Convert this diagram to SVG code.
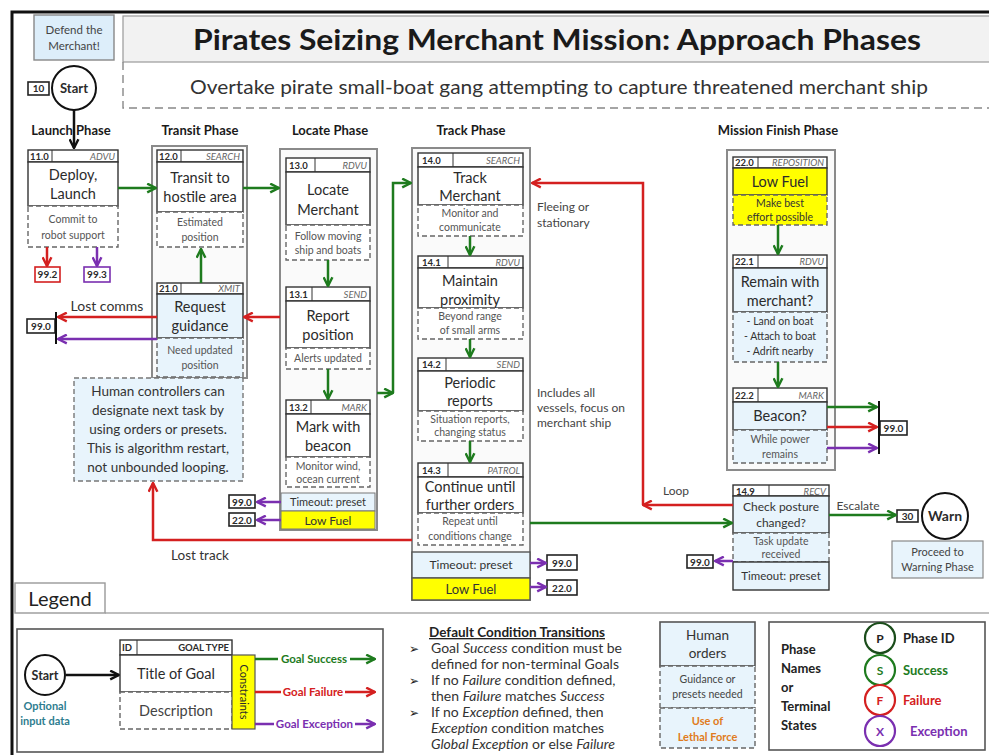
<svg xmlns="http://www.w3.org/2000/svg" width="989" height="755" viewBox="0 0 989 755">
<style>
svg{fill:#2b2b2b}
text{font-family:Lato,"Open Sans","Liberation Sans",sans-serif}
.ph{font-size:13px;font-weight:bold;text-anchor:middle;fill:#1a1a1a}
.hdr{fill:#fff;stroke:#333;stroke-width:1.4}
.ttl{fill:#fff;stroke:#333;stroke-width:1.4}
.ttlb{fill:#e8f4fc;stroke:#333;stroke-width:1.4}
.ttly{fill:#ffff00;stroke:#333;stroke-width:1.4}
.dsc{fill:#fff;stroke:#666;stroke-width:1.4;stroke-dasharray:5,3}
.dscb{fill:#e8f4fc;stroke:#666;stroke-width:1.4;stroke-dasharray:5,3}
.dscy{fill:#ffff00;stroke:#666;stroke-width:1.4;stroke-dasharray:5,3}
.cont{fill:#fafafa;stroke:#8a8a8a;stroke-width:2}
.id{font-size:9.5px;font-weight:bold}
.ty{font-size:9.5px;font-style:italic;fill:#666;text-anchor:end}
.t{font-size:14.5px;text-anchor:middle}
.d{font-size:10.5px;text-anchor:middle;fill:#555}
.lbl{font-size:12px;fill:#444}
.tbox{fill:#fff;stroke:#222;stroke-width:1.6}
.tid{font-size:10px;font-weight:bold;text-anchor:middle}
.g{stroke:#1e7b1e;stroke-width:2.5;fill:none}
.r{stroke:#d42020;stroke-width:2.5;fill:none}
.p{stroke:#7a2fb0;stroke-width:2.5;fill:none}
.k{stroke:#111;stroke-width:2.5;fill:none}
</style>
<defs>
<marker id="ag" viewBox="0 0 10 10" refX="9" refY="5" markerWidth="11" markerHeight="11" orient="auto" markerUnits="userSpaceOnUse"><path d="M1,1 L9,5 L1,9" fill="none" stroke="#1e7b1e" stroke-width="2.2"/></marker>
<marker id="ar" viewBox="0 0 10 10" refX="9" refY="5" markerWidth="11" markerHeight="11" orient="auto" markerUnits="userSpaceOnUse"><path d="M1,1 L9,5 L1,9" fill="none" stroke="#d42020" stroke-width="2.2"/></marker>
<marker id="ap" viewBox="0 0 10 10" refX="9" refY="5" markerWidth="11" markerHeight="11" orient="auto" markerUnits="userSpaceOnUse"><path d="M1,1 L9,5 L1,9" fill="none" stroke="#7a2fb0" stroke-width="2.2"/></marker>
<marker id="ak" viewBox="0 0 10 10" refX="9" refY="5" markerWidth="11" markerHeight="11" orient="auto" markerUnits="userSpaceOnUse"><path d="M1,1 L9,5 L1,9" fill="none" stroke="#111" stroke-width="2.2"/></marker>
</defs>
<rect width="989" height="755" fill="#fff"/>
<!-- frame -->
<path d="M12,755 V12 H989" fill="none" stroke="#111" stroke-width="3"/>

<!-- header -->
<g id="title">
<rect x="123" y="16" width="870" height="46" fill="#f2f2f2" stroke="#999" stroke-width="1.2"/>
<text x="557" y="50" font-size="29" font-weight="bold" text-anchor="middle" fill="#1a1a1a" textLength="728" lengthAdjust="spacingAndGlyphs">Pirates Seizing Merchant Mission: Approach Phases</text>
<path d="M123,62 V108 H989" fill="none" stroke="#888" stroke-width="1.4" stroke-dasharray="8,5"/>
<text x="559" y="94" font-size="20" text-anchor="middle" fill="#333" textLength="738" lengthAdjust="spacingAndGlyphs">Overtake pirate small-boat gang attempting to capture threatened merchant ship</text>
</g>
<g id="defend">
<rect x="34" y="15" width="80" height="45" fill="#ddeefa" stroke="#888" stroke-width="1.4"/>
<text x="74" y="34" font-size="11.5" text-anchor="middle" fill="#444">Defend the</text>
<text x="74" y="50" font-size="11.5" text-anchor="middle" fill="#444">Merchant!</text>
</g>
<g id="start">
<circle cx="74" cy="88" r="22" fill="#fff" stroke="#111" stroke-width="2"/>
<text x="74" y="93" font-size="13" font-weight="bold" text-anchor="middle">Start</text>
<rect x="28" y="82" width="21" height="13" class="tbox"/>
<text x="38.5" y="92" class="tid">10</text>
</g>

<!-- phase labels -->
<g id="phases">
<text x="71" y="135" class="ph">Launch Phase</text>
<text x="200" y="135" class="ph">Transit Phase</text>
<text x="330" y="135" class="ph">Locate Phase</text>
<text x="471" y="135" class="ph">Track Phase</text>
<text x="778" y="135" class="ph">Mission Finish Phase</text>
</g>

<!-- containers -->
<g id="containers">
<rect x="152" y="146" width="95" height="232" class="cont"/>
<rect x="280" y="149" width="97" height="381" class="cont"/>
<rect x="412" y="148" width="118" height="452" class="cont"/>
<rect x="727" y="150" width="108" height="320" class="cont"/>
</g>

<!-- Node 11.0 -->
<g id="n11">
<rect x="28" y="150" width="90" height="12" class="hdr"/><line x1="52" y1="150" x2="52" y2="162" stroke="#333"/>
<text x="30" y="159.5" class="id">11.0</text><text x="115" y="159.5" class="ty">ADVU</text>
<rect x="28" y="162" width="90" height="44" class="ttl"/>
<text x="73" y="180" class="t">Deploy,</text><text x="73" y="199" class="t">Launch</text>
<rect x="28" y="206" width="90" height="41" class="dsc"/>
<text x="73" y="223" class="d">Commit to</text><text x="73" y="239" class="d">robot support</text>
</g>
<g id="t992"><rect x="35" y="267" width="25" height="15" fill="#fff" stroke="#d42020" stroke-width="1.6"/><text x="47.5" y="278" class="tid">99.2</text></g>
<g id="t993"><rect x="84" y="267" width="26" height="15" fill="#fff" stroke="#7a2fb0" stroke-width="1.6"/><text x="97" y="278" class="tid">99.3</text></g>

<!-- Node 12.0 -->
<g id="n12">
<rect x="157" y="150" width="86" height="12" class="hdr"/><line x1="181" y1="150" x2="181" y2="162" stroke="#333"/>
<text x="159" y="159.5" class="id">12.0</text><text x="240" y="159.5" class="ty">SEARCH</text>
<rect x="157" y="162" width="86" height="50" class="ttl"/>
<text x="200" y="183" class="t">Transit to</text><text x="200" y="202" class="t">hostile area</text>
<rect x="157" y="212" width="86" height="35" class="dsc"/>
<text x="200" y="226" class="d">Estimated</text><text x="200" y="241" class="d">position</text>
</g>
<!-- Node 21.0 -->
<g id="n21">
<rect x="157" y="283" width="86" height="11" class="hdr"/><line x1="181" y1="283" x2="181" y2="294" stroke="#333"/>
<text x="159" y="292" class="id">21.0</text><text x="240" y="292" class="ty">XMIT</text>
<rect x="157" y="294" width="86" height="44" class="ttlb"/>
<text x="200" y="312" class="t">Request</text><text x="200" y="331" class="t">guidance</text>
<rect x="157" y="338" width="86" height="39" class="dscb"/>
<text x="200" y="354" class="d" font-size="10">Need updated</text><text x="200" y="369" class="d" font-size="10">position</text>
</g>
<g id="human">
<rect x="74" y="378" width="169" height="103" fill="#e8f4fc" stroke="#777" stroke-width="1.4" stroke-dasharray="5,3"/>
<text x="158" y="396" font-size="13.5" text-anchor="middle" fill="#333">Human controllers can</text>
<text x="158" y="415" font-size="13.5" text-anchor="middle" fill="#333">designate next task by</text>
<text x="158" y="434" font-size="13.5" text-anchor="middle" fill="#333">using orders or presets.</text>
<text x="158" y="453" font-size="13.5" text-anchor="middle" fill="#333">This is algorithm restart,</text>
<text x="158" y="472" font-size="13.5" text-anchor="middle" fill="#333">not unbounded looping.</text>
</g>
<g id="t990a"><rect x="27" y="319" width="28" height="14" class="tbox"/><text x="41" y="330" class="tid">99.0</text></g>

<!-- Node 13.0 -->
<g id="n13">
<rect x="286" y="158" width="84" height="14" class="hdr"/><line x1="315" y1="158" x2="315" y2="172" stroke="#333"/>
<text x="289" y="168.5" class="id">13.0</text><text x="367" y="168.5" class="ty">RDVU</text>
<rect x="286" y="172" width="84" height="53" class="ttl"/>
<text x="328" y="195" class="t">Locate</text><text x="328" y="215" class="t">Merchant</text>
<rect x="286" y="225" width="84" height="35" class="dsc"/>
<text x="328" y="240" class="d">Follow moving</text><text x="328" y="254" class="d">ship and boats</text>
</g>
<g id="n131">
<rect x="286" y="287" width="84" height="14" class="hdr"/><line x1="312" y1="287" x2="312" y2="301" stroke="#333"/>
<text x="289" y="297.5" class="id">13.1</text><text x="367" y="297.5" class="ty">SEND</text>
<rect x="286" y="301" width="84" height="47" class="ttl"/>
<text x="328" y="321" class="t">Report</text><text x="328" y="340" class="t">position</text>
<rect x="286" y="348" width="84" height="21" class="dsc"/>
<text x="328" y="362" class="d">Alerts updated</text>
</g>
<g id="n132">
<rect x="286" y="400" width="84" height="14" class="hdr"/><line x1="311" y1="400" x2="311" y2="414" stroke="#333"/>
<text x="289" y="410.5" class="id">13.2</text><text x="367" y="410.5" class="ty">MARK</text>
<rect x="286" y="414" width="84" height="43" class="ttl"/>
<text x="328" y="432" class="t">Mark with</text><text x="328" y="451" class="t">beacon</text>
<rect x="286" y="457" width="84" height="30" class="dsc"/>
<text x="328" y="470" class="d">Monitor wind,</text><text x="328" y="483" class="d">ocean current</text>
</g>
<g id="locTimeout">
<rect x="281" y="493" width="94" height="18" fill="#e8f4fc" stroke="#777" stroke-width="1"/>
<text x="328" y="506" font-size="11" text-anchor="middle" fill="#333">Timeout: preset</text>
<rect x="281" y="511" width="94" height="18" fill="#ffff00" stroke="#777" stroke-width="1"/>
<text x="328" y="524.5" font-size="12" text-anchor="middle" fill="#333">Low Fuel</text>
</g>
<g id="t990b"><rect x="229" y="495" width="26" height="13" class="tbox"/><text x="242" y="505.5" class="tid">99.0</text></g>
<g id="t220a"><rect x="229" y="513" width="26" height="13" class="tbox"/><text x="242" y="523.5" class="tid">22.0</text></g>

<!-- Track nodes -->
<g id="n140">
<rect x="418" y="153" width="105" height="14" class="hdr"/><line x1="453" y1="153" x2="453" y2="167" stroke="#333"/>
<text x="422" y="163.5" class="id">14.0</text><text x="520" y="163.5" class="ty">SEARCH</text>
<rect x="418" y="167" width="105" height="38" class="ttl"/>
<text x="470" y="183" class="t">Track</text><text x="470" y="201" class="t">Merchant</text>
<rect x="418" y="205" width="105" height="31" class="dsc"/>
<text x="470" y="217" class="d" font-size="10">Monitor and</text><text x="470" y="231" class="d" font-size="10">communicate</text>
</g>
<g id="n141">
<rect x="418" y="256" width="105" height="12" class="hdr"/><line x1="448" y1="256" x2="448" y2="268" stroke="#333"/>
<text x="422" y="265.5" class="id">14.1</text><text x="520" y="265.5" class="ty">RDVU</text>
<rect x="418" y="268" width="105" height="40" class="ttl"/>
<text x="470" y="286" class="t">Maintain</text><text x="470" y="305" class="t">proximity</text>
<rect x="418" y="308" width="105" height="31" class="dsc"/>
<text x="470" y="320" class="d" font-size="10">Beyond range</text><text x="470" y="334" class="d" font-size="10">of small arms</text>
</g>
<g id="n142">
<rect x="418" y="358" width="105" height="13" class="hdr"/><line x1="446" y1="358" x2="446" y2="371" stroke="#333"/>
<text x="422" y="368" class="id">14.2</text><text x="520" y="368" class="ty">SEND</text>
<rect x="418" y="371" width="105" height="40" class="ttl"/>
<text x="470" y="388" class="t">Periodic</text><text x="470" y="406" class="t">reports</text>
<rect x="418" y="411" width="105" height="30" class="dsc"/>
<text x="470" y="423" class="d" font-size="10">Situation reports,</text><text x="470" y="436" class="d" font-size="10">changing status</text>
</g>
<g id="n143">
<rect x="418" y="463" width="105" height="14" class="hdr"/><line x1="448" y1="463" x2="448" y2="477" stroke="#333"/>
<text x="422" y="473.5" class="id">14.3</text><text x="520" y="473.5" class="ty">PATROL</text>
<rect x="418" y="477" width="105" height="36" class="ttl"/>
<text x="470" y="492" class="t">Continue until</text><text x="470" y="510" class="t">further orders</text>
<rect x="418" y="513" width="105" height="32" class="dsc"/>
<text x="470" y="525" class="d" font-size="10">Repeat until</text><text x="470" y="540" class="d" font-size="10">conditions change</text>
</g>
<g id="trkTimeout">
<rect x="412" y="552" width="118" height="26" fill="#e8f4fc" stroke="#555" stroke-width="1.4"/>
<text x="471" y="569" font-size="12" text-anchor="middle" fill="#333">Timeout: preset</text>
<rect x="412" y="578" width="118" height="22" fill="#ffff00" stroke="#555" stroke-width="1.4"/>
<text x="471" y="594" font-size="13" text-anchor="middle" fill="#333">Low Fuel</text>
</g>
<g id="t990c"><rect x="547" y="555" width="30" height="15" class="tbox"/><text x="562" y="566.5" class="tid">99.0</text></g>
<g id="t220b"><rect x="547" y="580" width="30" height="15" class="tbox"/><text x="562" y="591.5" class="tid">22.0</text></g>
<g id="notes">
<text x="537" y="211" class="lbl" font-size="11.5">Fleeing or</text>
<text x="537" y="227" class="lbl" font-size="11.5">stationary</text>
<text x="537" y="397" class="lbl" font-size="11.5">Includes all</text>
<text x="537" y="412" class="lbl" font-size="11.5">vessels, focus on</text>
<text x="537" y="427" class="lbl" font-size="11.5">merchant ship</text>
</g>

<!-- 14.9 -->
<g id="n149">
<rect x="733" y="485" width="96" height="11" class="hdr"/><line x1="769" y1="485" x2="769" y2="496" stroke="#333"/>
<text x="736" y="494.5" class="id">14.9</text><text x="826" y="494.5" class="ty">RECV</text>
<rect x="733" y="496" width="96" height="37" class="ttlb"/>
<text x="781" y="511" font-size="12" text-anchor="middle" fill="#333">Check posture</text><text x="781" y="527" font-size="12" text-anchor="middle" fill="#333">changed?</text>
<rect x="733" y="533" width="96" height="29" class="dscb"/>
<text x="781" y="545" class="d">Task update</text><text x="781" y="558" class="d">received</text>
<rect x="733" y="562" width="96" height="28" fill="#e8f4fc" stroke="#333" stroke-width="1.4"/>
<text x="781" y="580" font-size="11.5" text-anchor="middle" fill="#333">Timeout: preset</text>
</g>
<g id="t990d"><rect x="687" y="555" width="26" height="13" class="tbox"/><text x="700" y="565.5" class="tid">99.0</text></g>
<g id="warn">
<rect x="897" y="510" width="21" height="12" class="tbox"/><text x="907.5" y="520" class="tid">30</text>
<circle cx="945" cy="516" r="23" fill="#fff" stroke="#111" stroke-width="2"/>
<text x="945" y="521" font-size="14" font-weight="bold" text-anchor="middle">Warn</text>
</g>
<g id="proceed">
<rect x="892" y="541" width="91" height="37" fill="#e8f4fc" stroke="#888" stroke-width="1.2"/>
<text x="937.5" y="556" font-size="11" text-anchor="middle" fill="#444">Proceed to</text>
<text x="937.5" y="571" font-size="11" text-anchor="middle" fill="#444">Warning Phase</text>
</g>

<!-- Mission finish nodes -->
<g id="n220">
<rect x="733" y="157" width="94" height="11" class="hdr"/><line x1="758" y1="157" x2="758" y2="168" stroke="#333"/>
<text x="735" y="166" class="id">22.0</text><text x="824" y="166" class="ty">REPOSITION</text>
<rect x="733" y="168" width="94" height="27" class="ttly"/>
<text x="780" y="187" class="t">Low Fuel</text>
<rect x="733" y="195" width="94" height="30" class="dscy"/>
<text x="780" y="207" class="d" style="fill:#333">Make best</text><text x="780" y="221" class="d" style="fill:#333">effort possible</text>
</g>
<g id="n221">
<rect x="733" y="255" width="94" height="13" class="hdr"/><line x1="758" y1="255" x2="758" y2="268" stroke="#333"/>
<text x="735" y="265" class="id">22.1</text><text x="824" y="265" class="ty">RDVU</text>
<rect x="733" y="268" width="94" height="44" class="ttlb"/>
<text x="780" y="287" class="t">Remain with</text><text x="780" y="306" class="t">merchant?</text>
<rect x="733" y="312" width="94" height="50" class="dscb"/>
<text x="780" y="325" class="d" style="fill:#333">- Land on boat</text><text x="780" y="340" class="d" style="fill:#333">- Attach to boat</text><text x="780" y="355" class="d" style="fill:#333">- Adrift nearby</text>
</g>
<g id="n222">
<rect x="733" y="388" width="94" height="14" class="hdr"/><line x1="758" y1="388" x2="758" y2="402" stroke="#333"/>
<text x="735" y="398.5" class="id">22.2</text><text x="824" y="398.5" class="ty">MARK</text>
<rect x="733" y="402" width="94" height="28" class="ttlb"/>
<text x="780" y="421" class="t">Beacon?</text>
<rect x="733" y="430" width="94" height="33" class="dscb"/>
<text x="780" y="443" class="d">While power</text><text x="780" y="458" class="d">remains</text>
</g>
<g id="t990e"><rect x="880" y="421" width="27" height="14" class="tbox"/><text x="893.5" y="432" class="tid">99.0</text></g>

<!-- connectors -->
<g id="connectors">
<line x1="74" y1="110" x2="74" y2="148" class="k" marker-end="url(#ak)"/>
<line x1="118" y1="188" x2="156" y2="188" class="g" marker-end="url(#ag)"/>
<line x1="243" y1="188" x2="279" y2="188" class="g" marker-end="url(#ag)"/>
<line x1="47" y1="247" x2="47" y2="266" class="r" marker-end="url(#ar)"/>
<line x1="97" y1="247" x2="97" y2="266" class="p" marker-end="url(#ap)"/>
<line x1="201" y1="283" x2="201" y2="249" class="g" marker-end="url(#ag)"/>
<line x1="280" y1="317" x2="244" y2="317" class="r" marker-end="url(#ar)"/>
<line x1="157" y1="317" x2="58" y2="317" class="r" marker-end="url(#ar)"/>
<line x1="157" y1="339" x2="58" y2="339" class="p" marker-end="url(#ap)"/>
<line x1="56" y1="312" x2="56" y2="344" stroke="#111" stroke-width="2"/>
<line x1="328" y1="260" x2="328" y2="286" class="g" marker-end="url(#ag)"/>
<line x1="328" y1="369" x2="328" y2="399" class="g" marker-end="url(#ag)"/>
<line x1="377" y1="393" x2="393" y2="393" class="g" marker-end="url(#ag)"/>
<path d="M393,393 V183 H411" class="g" marker-end="url(#ag)"/>
<line x1="281" y1="502" x2="257" y2="502" class="p" marker-end="url(#ap)"/>
<line x1="281" y1="520" x2="257" y2="520" class="p" marker-end="url(#ap)"/>
<path d="M412,540 H153 V483" class="r" marker-end="url(#ar)"/>
<line x1="470" y1="236" x2="470" y2="255" class="g" marker-end="url(#ag)"/>
<line x1="470" y1="339" x2="470" y2="357" class="g" marker-end="url(#ag)"/>
<line x1="470" y1="441" x2="470" y2="462" class="g" marker-end="url(#ag)"/>
<line x1="530" y1="563" x2="546" y2="563" class="p" marker-end="url(#ap)"/>
<line x1="530" y1="587" x2="546" y2="587" class="p" marker-end="url(#ap)"/>
<line x1="530" y1="523" x2="732" y2="523" class="g" marker-end="url(#ag)"/>
<line x1="733" y1="505" x2="643" y2="505" class="r" marker-end="url(#ar)"/>
<path d="M643,505 V183 H532" class="r" marker-end="url(#ar)"/>
<line x1="733" y1="561" x2="715" y2="561" class="p" marker-end="url(#ap)"/>
<line x1="829" y1="515" x2="896" y2="515" class="g" marker-end="url(#ag)"/>
<line x1="778" y1="225" x2="778" y2="254" class="g" marker-end="url(#ag)"/>
<line x1="778" y1="362" x2="778" y2="387" class="g" marker-end="url(#ag)"/>
<line x1="827" y1="407" x2="877" y2="407" class="g" marker-end="url(#ag)"/>
<line x1="827" y1="427" x2="877" y2="427" class="r" marker-end="url(#ar)"/>
<line x1="827" y1="448" x2="877" y2="448" class="p" marker-end="url(#ap)"/>
<line x1="879" y1="401" x2="879" y2="454" stroke="#111" stroke-width="2"/>
<text x="107" y="311" font-size="14" text-anchor="middle" fill="#333">Lost comms</text>
<text x="200" y="560" font-size="13.5" text-anchor="middle" fill="#333">Lost track</text>
<text x="676" y="495" class="lbl" text-anchor="middle">Loop</text>
<text x="858" y="510" class="lbl" text-anchor="middle">Escalate</text>
</g>

<!-- Legend -->
<g id="legendTab">
<line x1="105" y1="613" x2="989" y2="613" stroke="#aaa" stroke-width="1.6"/>
<rect x="15" y="583" width="90" height="30" fill="#fff" stroke="#999" stroke-width="1.4"/>
<text x="60" y="606" font-size="20" text-anchor="middle" fill="#222">Legend</text>
</g>
<g id="legend1">
<rect x="17" y="629" width="366" height="123" fill="#fff" stroke="#555" stroke-width="1.6"/>
<circle cx="45" cy="675" r="20" fill="#fff" stroke="#111" stroke-width="2"/>
<text x="45" y="680" font-size="12.5" font-weight="bold" text-anchor="middle">Start</text>
<text x="45" y="710" font-size="11" font-weight="bold" text-anchor="middle" fill="#2e7d8f">Optional</text>
<text x="45" y="725" font-size="11" font-weight="bold" text-anchor="middle" fill="#2e7d8f">input data</text>
<line x1="66" y1="675" x2="119" y2="675" class="k" marker-end="url(#ak)"/>
<rect x="120" y="640" width="112" height="15" class="hdr"/><line x1="137" y1="640" x2="137" y2="655" stroke="#333"/>
<text x="122" y="651" class="id">ID</text><text x="229" y="651" font-size="9.5" font-weight="bold" text-anchor="end">GOAL TYPE</text>
<rect x="120" y="655" width="112" height="37" class="ttl"/>
<text x="176" y="679" class="t">Title of Goal</text>
<rect x="120" y="692" width="112" height="37" class="dsc"/>
<text x="176" y="716" class="t" fill="#444">Description</text>
<rect x="232" y="655" width="23" height="74" fill="#ffff00" stroke="#555" stroke-width="1.2"/>
<text x="243.5" y="692" font-size="11" text-anchor="middle" transform="rotate(90 243.5 692)" dy="4">Constraints</text>
<line x1="255" y1="659" x2="375" y2="659" class="g" stroke-width="2" marker-end="url(#ag)"/>
<rect x="278" y="651" width="72" height="15" fill="#fff"/>
<text x="314" y="663" font-size="11.5" font-weight="bold" text-anchor="middle" fill="#1e7b1e">Goal Success</text>
<line x1="255" y1="692" x2="375" y2="692" class="r" stroke-width="2" marker-end="url(#ar)"/>
<rect x="281" y="684" width="64" height="15" fill="#fff"/>
<text x="313" y="696" font-size="11.5" font-weight="bold" text-anchor="middle" fill="#d42020">Goal Failure</text>
<line x1="255" y1="724" x2="375" y2="724" class="p" stroke-width="2" marker-end="url(#ap)"/>
<rect x="274" y="716" width="81" height="15" fill="#fff"/>
<text x="314.5" y="728" font-size="11.5" font-weight="bold" text-anchor="middle" fill="#7a2fb0">Goal Exception</text>
</g>
<g id="legend2">
<text x="517" y="637" font-size="13.5" font-weight="bold" text-anchor="middle" text-decoration="underline" fill="#222">Default Condition Transitions</text>
<text x="409" y="653" font-size="12" fill="#222">➢</text>
<text x="431" y="653" font-size="14" fill="#333">Goal <tspan font-style="italic">Success</tspan> condition must be</text>
<text x="431" y="669" font-size="14" fill="#333">defined for non-terminal Goals</text>
<text x="409" y="685" font-size="12" fill="#222">➢</text>
<text x="431" y="685" font-size="14" fill="#333">If no <tspan font-style="italic">Failure</tspan> condition defined,</text>
<text x="431" y="701" font-size="14" fill="#333">then <tspan font-style="italic">Failure</tspan> matches <tspan font-style="italic">Success</tspan></text>
<text x="409" y="717" font-size="12" fill="#222">➢</text>
<text x="431" y="717" font-size="14" fill="#333">If no <tspan font-style="italic">Exception</tspan> defined, then</text>
<text x="431" y="733" font-size="14" fill="#333"><tspan font-style="italic">Exception</tspan> condition matches</text>
<text x="431" y="749" font-size="14" fill="#333"><tspan font-style="italic">Global Exception</tspan> or else <tspan font-style="italic">Failure</tspan></text>
</g>
<g id="legend3">
<rect x="660" y="622" width="95" height="44" fill="#e8f4fc" stroke="#555" stroke-width="1.6"/>
<text x="707.5" y="640" font-size="13.5" text-anchor="middle" fill="#333">Human</text>
<text x="707.5" y="658" font-size="13.5" text-anchor="middle" fill="#333">orders</text>
<rect x="660" y="666" width="95" height="42" class="dscb"/>
<text x="707.5" y="683" font-size="10.5" text-anchor="middle" fill="#444">Guidance or</text>
<text x="707.5" y="698" font-size="10.5" text-anchor="middle" fill="#444">presets needed</text>
<rect x="660" y="708" width="95" height="40" class="dscb"/>
<text x="707.5" y="725" font-size="11" font-weight="bold" text-anchor="middle" fill="#e07b20">Use of</text>
<text x="707.5" y="741" font-size="11" font-weight="bold" text-anchor="middle" fill="#e07b20">Lethal Force</text>
</g>
<g id="legend4">
<rect x="769" y="622" width="216" height="128" fill="#fff" stroke="#555" stroke-width="1.6"/>
<text x="781" y="654" font-size="13" font-weight="bold" fill="#222">Phase</text>
<text x="781" y="673" font-size="13" font-weight="bold" fill="#222">Names</text>
<text x="781" y="692" font-size="13" font-weight="bold" fill="#222">or</text>
<text x="781" y="711" font-size="13" font-weight="bold" fill="#222">Terminal</text>
<text x="781" y="730" font-size="13" font-weight="bold" fill="#222">States</text>
<circle cx="880" cy="638" r="15" fill="#fff" stroke="#1b4d1b" stroke-width="2.2"/>
<text x="880" y="643" font-size="12" font-weight="bold" text-anchor="middle" fill="#222">P</text>
<text x="903" y="643" font-size="13" font-weight="bold" fill="#222">Phase ID</text>
<circle cx="880" cy="670" r="15" fill="#fff" stroke="#1e7b1e" stroke-width="2.2"/>
<text x="880" y="675" font-size="12" font-weight="bold" text-anchor="middle" fill="#1e7b1e">S</text>
<text x="903" y="675" font-size="13" font-weight="bold" fill="#1e7b1e">Success</text>
<circle cx="880" cy="700" r="15" fill="#fff" stroke="#d42020" stroke-width="2.2"/>
<text x="880" y="705" font-size="12" font-weight="bold" text-anchor="middle" fill="#d42020">F</text>
<text x="903" y="705" font-size="13" font-weight="bold" fill="#d42020">Failure</text>
<circle cx="880" cy="731" r="15" fill="#fff" stroke="#7a2fb0" stroke-width="2.2"/>
<text x="880" y="736" font-size="12" font-weight="bold" text-anchor="middle" fill="#7a2fb0">X</text>
<text x="910" y="736" font-size="13" font-weight="bold" fill="#7a2fb0">Exception</text>
</g>
</svg>
